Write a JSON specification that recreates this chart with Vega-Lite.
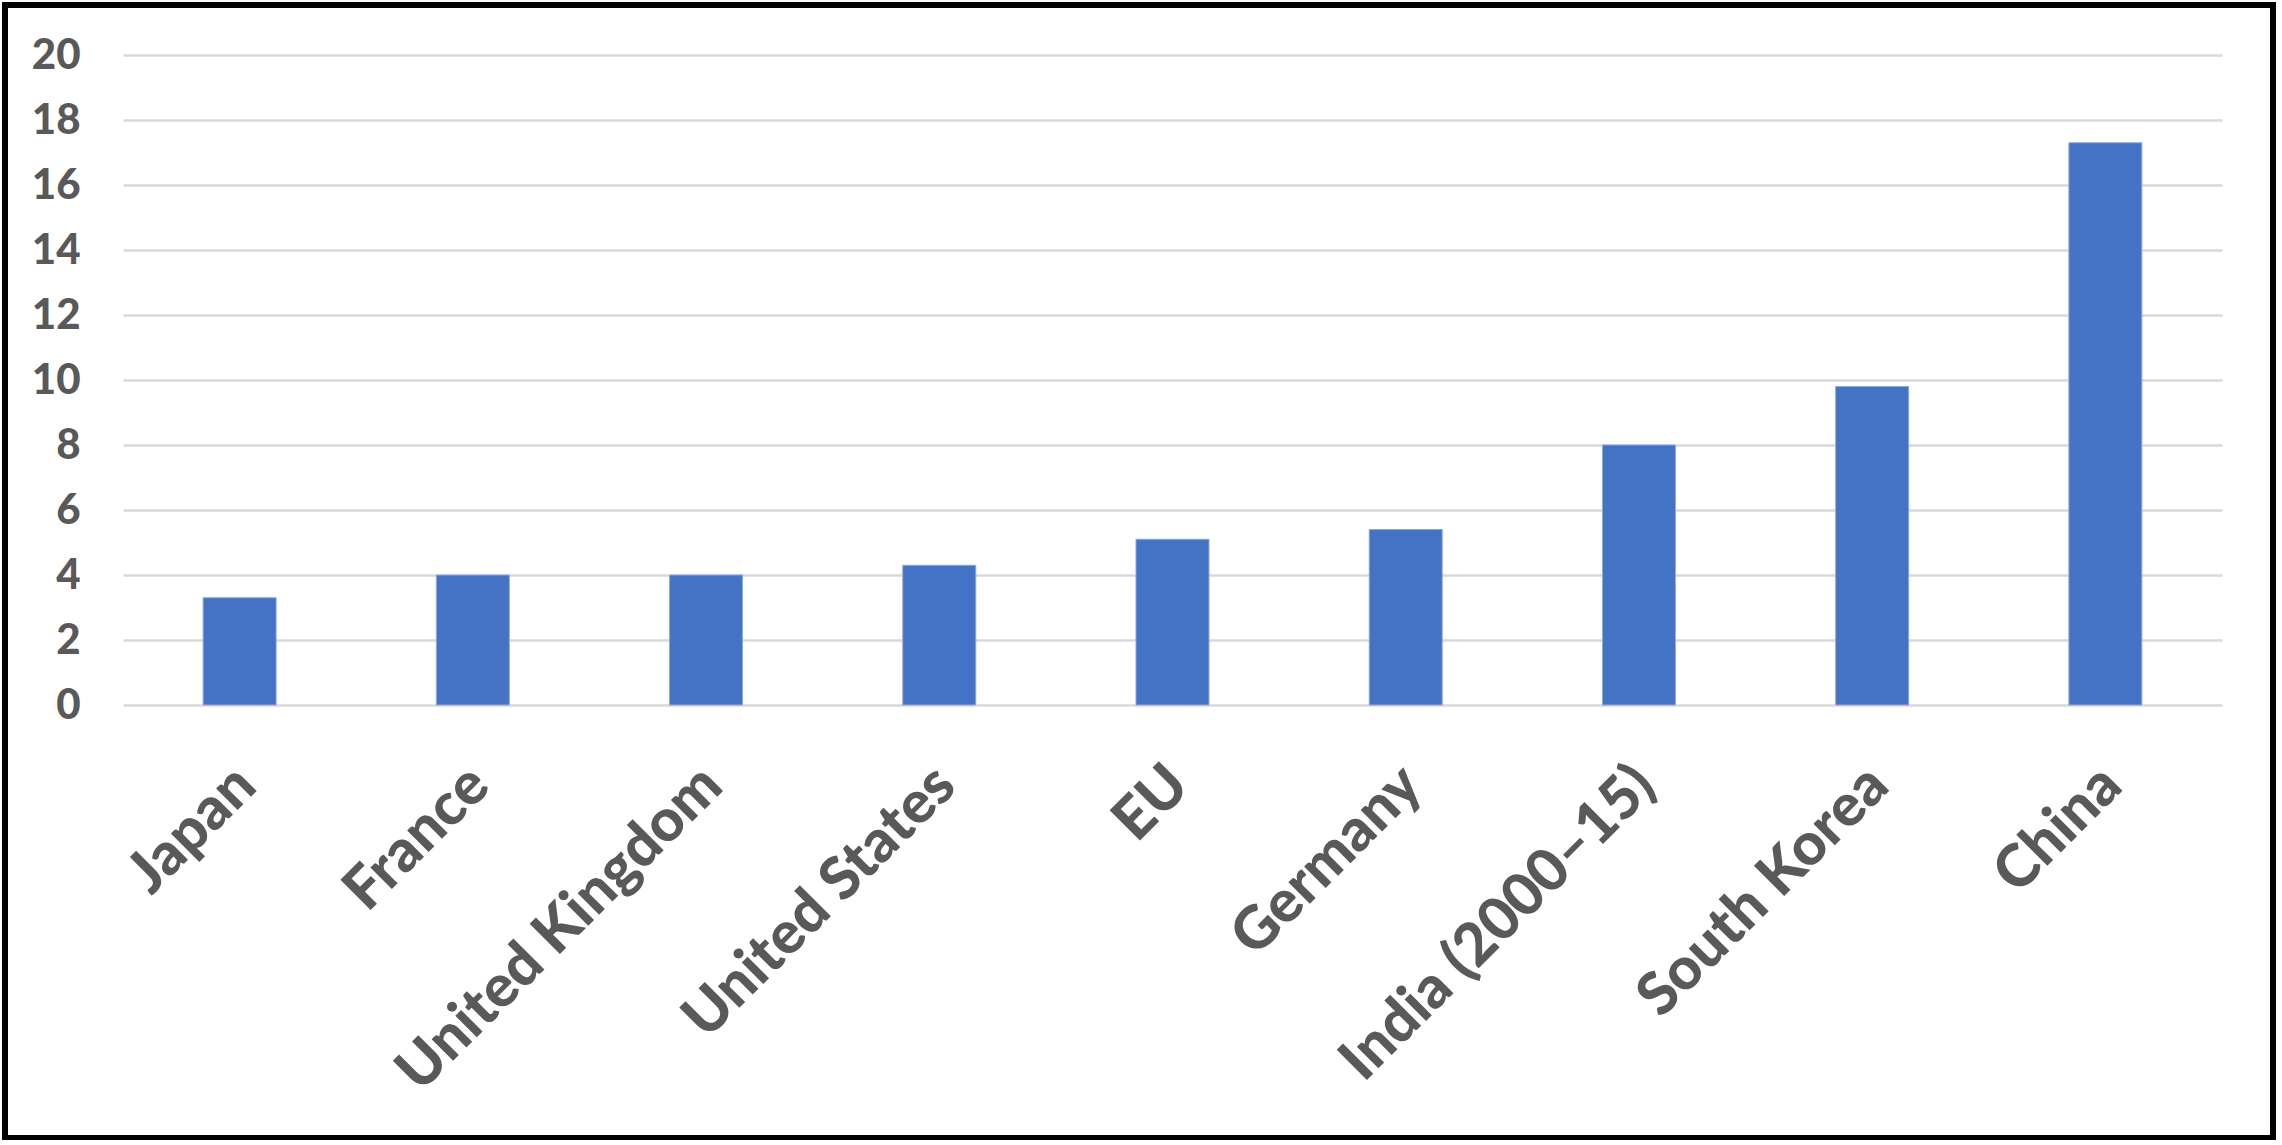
{
  "$schema": "https://vega.github.io/schema/vega-lite/v6.json",
  "autosize": "none",
  "width": 2099,
  "height": 650,
  "padding": {"left": 123, "top": 55, "right": 60, "bottom": 440},
  "background": "white",
  "config": {
    "view": {"stroke": null},
    "font": "Lato",
    "axis": {
      "labelFont": "Lato",
      "labelFontWeight": 900,
      "labelColor": "#595959",
      "labelFontSize": 42
    }
  },
  "data": {
    "values": [
      {"country": "Japan", "value": 3.3},
      {"country": "France", "value": 4.0},
      {"country": "United Kingdom", "value": 4.0},
      {"country": "United States", "value": 4.3},
      {"country": "EU", "value": 5.1},
      {"country": "Germany", "value": 5.4},
      {"country": "India (2000–15)", "value": 8.0},
      {"country": "South Korea", "value": 9.8},
      {"country": "China", "value": 17.3}
    ]
  },
  "layer": [
    {
      "mark": {"type": "bar", "color": "#4472C4", "stroke": "#8fa9dc", "strokeWidth": 1},
      "encoding": {
        "x": {
          "field": "country",
          "type": "nominal",
          "sort": null,
          "scale": {"paddingInner": 0.687, "paddingOuter": 0.3435},
          "axis": {
            "title": null,
            "labelAngle": -45,
            "labelPadding": 50,
            "labelOffset": -14,
            "labelFontSize": 59,
            "ticks": false,
            "domain": false,
            "grid": false,
            "labelLimit": 1000
          }
        },
        "y": {
          "field": "value",
          "type": "quantitative",
          "scale": {"domain": [0, 20], "nice": false},
          "axis": {
            "title": null,
            "values": [0, 2, 4, 6, 8, 10, 12, 14, 16, 18, 20],
            "ticks": false,
            "domain": false,
            "grid": true,
            "gridColor": "#d9d9d9",
            "gridWidth": 2.5,
            "labelPadding": 43
          }
        }
      }
    },
    {
      "mark": {"type": "rect", "fill": null, "stroke": "#000000", "strokeWidth": 5, "clip": false},
      "encoding": {
        "x": {"datum": -0.0562, "type": "quantitative", "scale": {"domain": [0, 1], "nice": false, "zero": false}, "axis": null},
        "x2": {"datum": 1.0243},
        "y": {"datum": 1.0769, "type": "quantitative", "scale": {"domain": [0, 1], "nice": false, "zero": false}, "axis": null},
        "y2": {"datum": -0.6654}
      }
    }
  ],
  "resolve": {"scale": {"x": "independent", "y": "independent"}, "axis": {"x": "independent", "y": "independent"}}
}
